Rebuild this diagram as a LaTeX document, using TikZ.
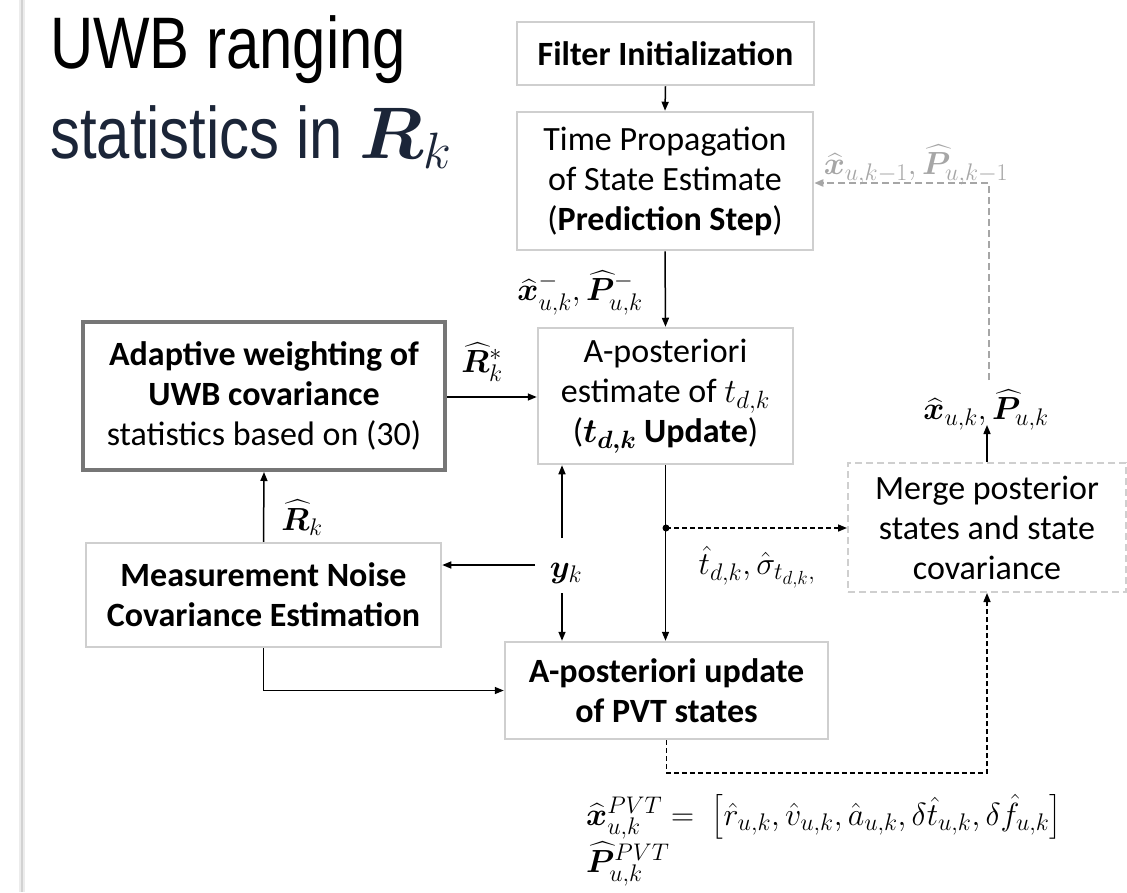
\RequirePackage{fix-cm}
\documentclass[tikz,border=0pt]{standalone}
\usepackage{amsmath,bm}
\usepackage{fontspec}
\setmainfont{Carlito}
\newfontfamily\titlefont[FakeStretch=0.82]{Liberation Sans}
\usetikzlibrary{arrows.meta,calc}
\DeclareMathSizes{32}{32}{24}{19}
\DeclareMathSizes{34}{34}{25}{20}
\definecolor{boxgray}{HTML}{CFCFCF}
\definecolor{darkgray}{HTML}{767676}
\definecolor{fbgray}{HTML}{A6A6A6}
\definecolor{navy}{HTML}{1B2538}
\newcommand\boxfont{\fontsize{34}{40}\selectfont}
\newcommand\lblfont{\fontsize{32}{38}\selectfont}
\tikzset{
  box/.style={draw=boxgray, line width=2.5pt, align=center, font=\boxfont, inner sep=0pt, fill=white},
  arr/.style={-{Triangle[length=9pt,width=7pt]}, line width=1.5pt},
  blackdash/.style={dash pattern=on 5pt off 3pt, line width=1.5pt},
  greydash/.style={draw=fbgray, dash pattern=on 7pt off 4pt, line width=2pt},
  lbl/.style={font=\lblfont, inner sep=0pt},
}
\begin{document}
\begin{tikzpicture}[x=1pt,y=-1pt]
\useasboundingbox (0,0) rectangle (1127,892);
\fill[white] (0,0) rectangle (1127,892);
% slide edge
\draw[gray!15, line width=6pt] (22,0) -- (22,892);
\draw[gray!35, line width=2pt] (22,0) -- (22,892);

% title
\node[anchor=base west, inner sep=0pt, font=\titlefont\fontsize{73}{90}\selectfont] (t1) at (50,68) {UWB ranging};
\node[anchor=base west, inner sep=0pt, text=navy, font=\titlefont\fontsize{73}{90}\selectfont] (t2) at (50,158) {statistics in $\bm{R}_k$};

% boxes
\node[box, minimum width=297pt, minimum height=63pt, font=\boxfont\bfseries] (filt) at (665.5,53.5) {Filter Initialization};
\node[box, minimum width=296pt, minimum height=138pt] (tp) at (665,181) {Time Propagation\\of State Estimate\\(\textbf{Prediction Step})};
\node[box, minimum width=255pt, minimum height=136pt] (apost) at (665.5,396) {A-posteriori\\estimate of $t_{d,k}$\\($\bm{t_{d,k}}$ \textbf{Update})};
\node[box, draw=darkgray, line width=4pt, minimum width=362pt, minimum height=148pt] (adapt) at (264,396) {\textbf{Adaptive weighting of}\\\textbf{UWB covariance}\\statistics based on (30)};
\node[box, minimum width=355pt, minimum height=104pt, font=\boxfont\bfseries] (meas) at (263.5,595) {Measurement Noise\\Covariance Estimation};
\node[box, minimum width=323pt, minimum height=97pt, font=\boxfont\bfseries] (pvt) at (666.5,690.5) {A-posteriori update\\of PVT states};
\node[box, line width=2pt, dash pattern=on 7pt off 4pt, minimum width=278pt, minimum height=129pt] (merge) at (987,527.5) {Merge posterior\\states and state\\covariance};

% labels
\node[lbl] (xm) at (580,293) {$\widehat{\bm{x}}_{u,k}^{-},\widehat{\bm{P}}_{u,k}^{-}$};
\node[lbl] (rs) at (482,362) {$\widehat{\bm{R}}_k^{*}$};
\node[lbl] (rk) at (302,518) {$\widehat{\bm{R}}_k$};
\node[lbl] (yk) at (566,573) {$\bm{y}_k$};
\node[lbl] (td) at (757,567) {$\hat{t}_{d,k},\hat{\sigma}_{t_{d,k},}$};
\node[lbl] (xuk) at (986,410) {$\widehat{\bm{x}}_{u,k},\widehat{\bm{P}}_{u,k}$};
\node[lbl, text=fbgray] (fbl) at (916,165) {$\widehat{\bm{x}}_{u,k-1},\widehat{\bm{P}}_{u,k-1}$};
\node[lbl, anchor=base west] (fx) at (586,825) {$\widehat{\bm{x}}_{u,k}^{PVT} =\; \bigl[\hat{r}_{u,k},\hat{v}_{u,k},\hat{a}_{u,k},\delta\hat{t}_{u,k},\delta\hat{f}_{u,k}\bigr]$};
\node[lbl, anchor=base west] (fp) at (586,872) {$\widehat{\bm{P}}_{u,k}^{PVT}$};

% helper coordinates
\coordinate (ykl) at (535,565);
\coordinate (yku) at (562,538);
\coordinate (ykd) at (562,593);
\coordinate (dot) at (666,528);
\coordinate (fbk) at (989,380);
\coordinate (xukb) at (987,425);

% connectors
\draw[arr] (filt.south) -- (tp.north);
\draw[arr] (tp.south) -- (apost.north);
\draw[arr] (adapt.east |- 0,397) -- (apost.west |- 0,397);
\draw[arr] (meas.north) -- (adapt.south);
\draw[arr] (ykl) -- (ykl -| meas.east);
\draw[arr] (yku) -- (yku |- apost.south);
\draw[arr] (ykd) -- (ykd |- pvt.north);
\draw[arr] (apost.south) -- (apost.south |- pvt.north);
\draw[arr] (meas.south) |- (pvt.west);
\fill (dot) circle (3.5pt);
\draw[blackdash, -{Triangle[length=9pt,width=7pt]}] (dot) -- (dot -| merge.west);
\draw[arr] (merge.north) -- (xukb);
\draw[blackdash, -{Triangle[length=9pt,width=7pt]}] (pvt.south) -- (pvt.south |- 0,773) -| (merge.south);
\draw[greydash, -{Triangle[length=9pt,width=7pt]}, fbgray] (fbk) |- (tp.east |- 0,183);
\end{tikzpicture}
\end{document}
